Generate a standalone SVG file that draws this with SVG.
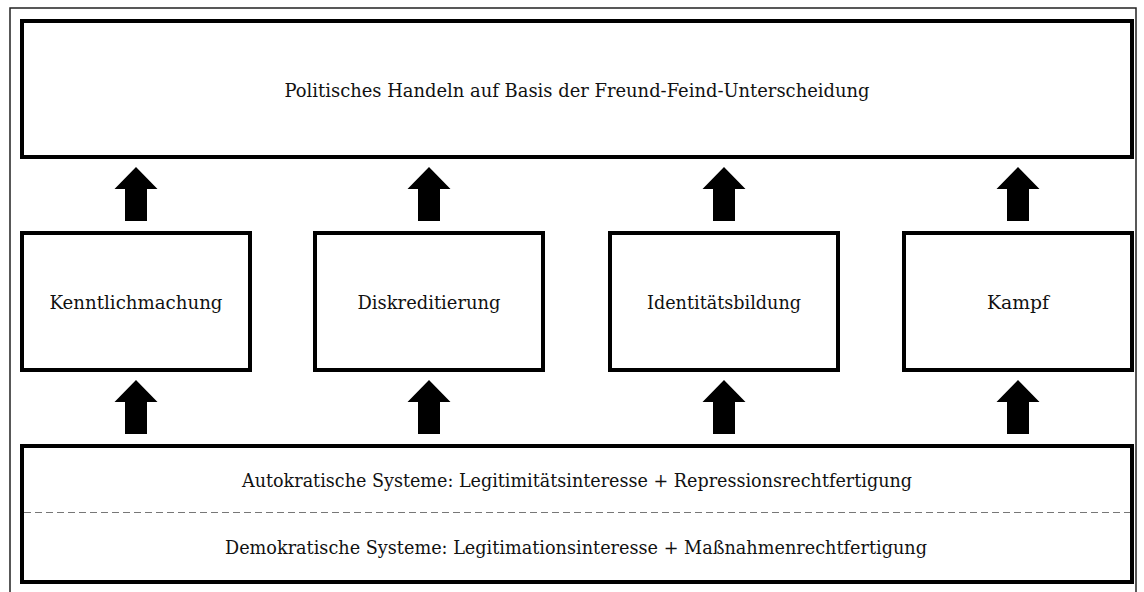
<svg xmlns="http://www.w3.org/2000/svg" width="1144" height="592" viewBox="0 0 1144 592">
<style>
.box{fill:#fff;stroke:#000;stroke-width:4}
.lbl{font-family:'DejaVu Serif','Liberation Serif',serif;font-size:19.4px;fill:#111;text-anchor:middle}
.arr{fill:#000}
.dash{stroke:#777;stroke-width:1.2;stroke-dasharray:7 4;fill:none}
.frame{fill:none;stroke:#222;stroke-width:1.5}
</style>
<defs>
<path id="arrowUp" d="M0,0 L21.5,22 L11,22 L11,54 L-11,54 L-11,22 L-21.5,22 Z"/>
</defs>
<rect width="1144" height="592" fill="#fff"/>
<path class="frame" d="M10,600 L10,8 L1136,8 L1136,600"/>
<g id="top">
<rect class="box" x="22" y="21" width="1110" height="136"/>
<text class="lbl" x="577" y="96.5" textLength="585" lengthAdjust="spacingAndGlyphs">Politisches Handeln auf Basis der Freund-Feind-Unterscheidung</text>
</g>
<g id="kenntlichmachung">
<rect class="box" x="22" y="233" width="228" height="137"/>
<text class="lbl" x="136" y="309" textLength="173" lengthAdjust="spacingAndGlyphs">Kenntlichmachung</text>
</g>
<g id="diskreditierung">
<rect class="box" x="315" y="233" width="228" height="137"/>
<text class="lbl" x="429" y="309" textLength="143" lengthAdjust="spacingAndGlyphs">Diskreditierung</text>
</g>
<g id="identitaetsbildung">
<rect class="box" x="610" y="233" width="228" height="137"/>
<text class="lbl" x="724" y="309" textLength="154" lengthAdjust="spacingAndGlyphs">Identitätsbildung</text>
</g>
<g id="kampf">
<rect class="box" x="904" y="233" width="228" height="137"/>
<text class="lbl" x="1018" y="309" textLength="62" lengthAdjust="spacingAndGlyphs">Kampf</text>
</g>
<g id="bottom">
<rect class="box" x="22" y="446" width="1110" height="136"/>
<line class="dash" x1="24" y1="512.5" x2="1130" y2="512.5"/>
<text class="lbl" x="577" y="487" textLength="670" lengthAdjust="spacingAndGlyphs">Autokratische Systeme: Legitimitätsinteresse + Repressionsrechtfertigung</text>
<text class="lbl" x="576" y="554" textLength="702" lengthAdjust="spacingAndGlyphs">Demokratische Systeme: Legitimationsinteresse + Maßnahmenrechtfertigung</text>
</g>
<g id="connectors" class="arr">
<use href="#arrowUp" x="136" y="167"/>
<use href="#arrowUp" x="429" y="167"/>
<use href="#arrowUp" x="724" y="167"/>
<use href="#arrowUp" x="1018" y="167"/>
<use href="#arrowUp" x="136" y="380"/>
<use href="#arrowUp" x="429" y="380"/>
<use href="#arrowUp" x="724" y="380"/>
<use href="#arrowUp" x="1018" y="380"/>
</g>
</svg>
